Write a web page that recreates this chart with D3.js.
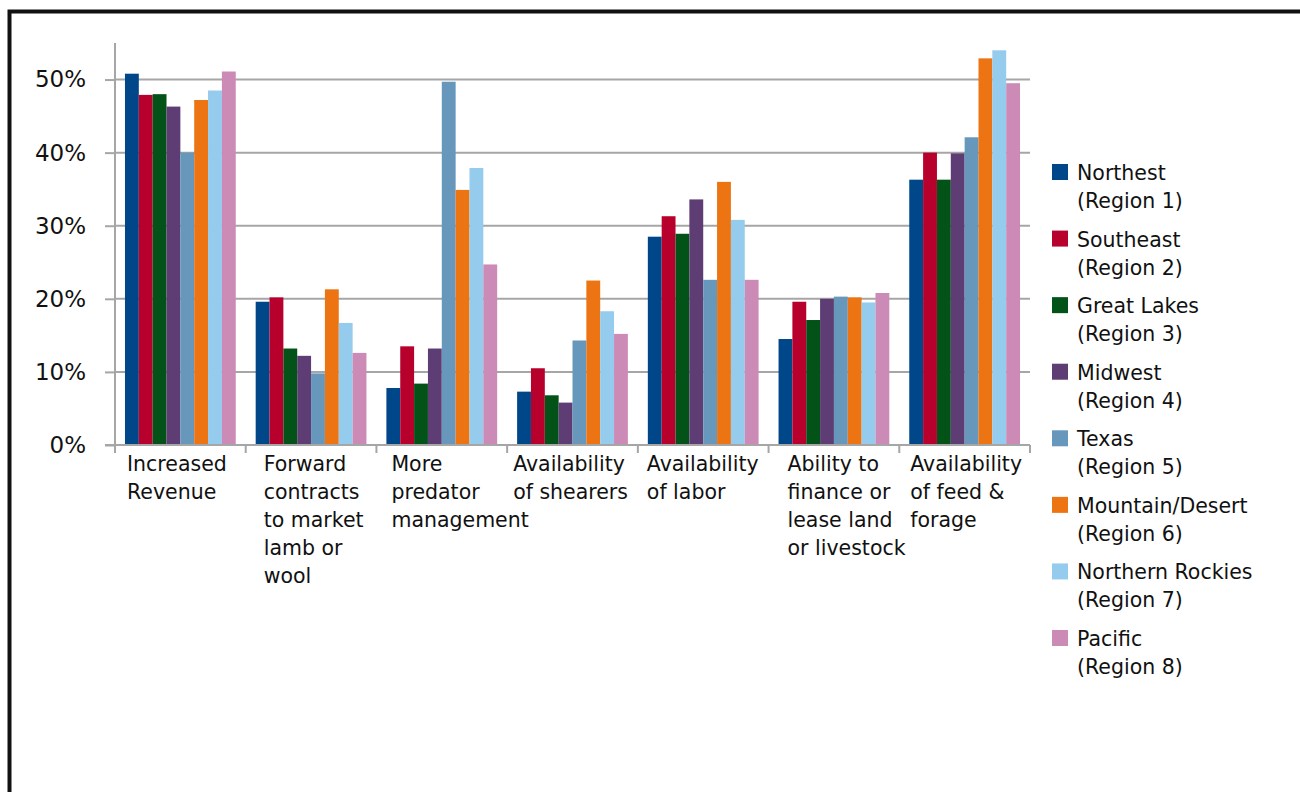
<!DOCTYPE html>
<html>
<head>
<meta charset="utf-8">
<script src="https://cdn.jsdelivr.net/npm/d3@7"></script>
<style>
  html, body { margin: 0; padding: 0; background: #fff; }
  svg { display: block; font-family: "DejaVu Sans", Verdana, sans-serif; }
</style>
</head>
<body>
<svg id="chart" width="1300" height="792"></svg>
<script>
// Factors by region (share of respondents)
const categories = [
  ["Increased", "Revenue"],
  ["Forward", "contracts", "to market", "lamb or", "wool"],
  ["More", "predator", "management"],
  ["Availability", "of shearers"],
  ["Availability", "of labor"],
  ["Ability to", "finance or", "lease land", "or livestock"],
  ["Availability", "of feed &", "forage"]
];

const seriesNames = [
  ["Northest", "(Region 1)"],
  ["Southeast", "(Region 2)"],
  ["Great Lakes", "(Region 3)"],
  ["Midwest", "(Region 4)"],
  ["Texas", "(Region 5)"],
  ["Mountain/Desert", "(Region 6)"],
  ["Northern Rockies", "(Region 7)"],
  ["Pacific", "(Region 8)"]
];

// values per series, one entry per category (percent)
const northeast   = [50.8, 19.6,  7.8,  7.3, 28.5, 14.5, 36.3];
const southeast   = [47.9, 20.2, 13.5, 10.5, 31.3, 19.6, 40.0];
const greatLakes  = [48.0, 13.2,  8.4,  6.8, 28.9, 17.1, 36.3];
const midwest     = [46.3, 12.2, 13.2,  5.8, 33.6, 20.0, 39.9];
const texas       = [40.0,  9.8, 49.7, 14.3, 22.6, 20.3, 42.1];
const mountain    = [47.2, 21.3, 34.9, 22.5, 36.0, 20.2, 52.9];
const nRockies    = [48.5, 16.7, 37.9, 18.3, 30.8, 19.5, 54.0];
const pacific     = [51.1, 12.6, 24.7, 15.2, 22.6, 20.8, 49.5];

const seriesValues = [northeast, southeast, greatLakes, midwest, texas, mountain, nRockies, pacific];

const yTicks = [0, 10, 20, 30, 40, 50];

const colors = ["#00478a", "#b8002c", "#035318", "#5d3d74", "#6797bb", "#ec7413", "#95cbec", "#cc8bb7"];

// layout
const plot = { left: 115, right: 1030, top: 43, bottom: 445 };
const labelOffsets = [12, 18, 15, 6, 9, 19, 11];

const svg = d3.select("#chart");

// frame
svg.append("rect").attr("x", 0).attr("y", 0).attr("width", 1300).attr("height", 792).attr("fill", "#fff");
svg.append("path")
  .attr("d", "M9.5,800 V11.5 H1310")
  .attr("fill", "none").attr("stroke", "#111").attr("stroke-width", 4);

const x0 = d3.scaleBand()
  .domain(d3.range(categories.length))
  .range([plot.left, plot.right])
  .paddingInner(0).paddingOuter(0);

const x1 = d3.scaleBand()
  .domain(d3.range(seriesValues.length))
  .range([0, x0.bandwidth()])
  .paddingOuter(0.72).paddingInner(0);

const y = d3.scaleLinear().domain([0, 55]).range([plot.bottom, plot.top]);

// gridlines
svg.append("g")
  .selectAll("line")
  .data(yTicks.filter(t => t > 0))
  .join("line")
  .attr("x1", plot.left).attr("x2", plot.right)
  .attr("y1", d => y(d)).attr("y2", d => y(d))
  .attr("stroke", "#a6a6a6").attr("stroke-width", 2);

// y axis
const yAxis = d3.axisLeft(y).tickValues(yTicks).tickSize(10).tickPadding(19).tickFormat(d => d + "%");
const gy = svg.append("g").attr("transform", `translate(${plot.left},0)`).call(yAxis);
gy.select(".domain").attr("stroke", "#a6a6a6").attr("stroke-width", 2)
  .attr("d", `M0,${plot.top}V${plot.bottom}`);
gy.selectAll(".tick line").attr("stroke", "#a6a6a6").attr("stroke-width", 2);
gy.selectAll(".tick text").attr("font-size", 23).attr("fill", "#111").attr("font-family", "DejaVu Sans, Verdana, sans-serif");

// bars
const groups = svg.append("g")
  .selectAll("g")
  .data(categories.map((c, i) => i))
  .join("g")
  .attr("transform", i => `translate(${x0(i)},0)`);

groups.selectAll("rect")
  .data(ci => seriesValues.map((s, si) => ({ si, v: s[ci] })))
  .join("rect")
  .attr("x", d => x1(d.si))
  .attr("width", x1.bandwidth())
  .attr("y", d => y(d.v))
  .attr("height", d => y(0) - y(d.v))
  .attr("fill", d => colors[d.si]);

// x axis line and category dividers
svg.append("line")
  .attr("x1", plot.left - 10).attr("x2", plot.right)
  .attr("y1", plot.bottom).attr("y2", plot.bottom)
  .attr("stroke", "#a6a6a6").attr("stroke-width", 2);
svg.append("g")
  .selectAll("line")
  .data(d3.range(categories.length + 1))
  .join("line")
  .attr("x1", i => plot.left + i * x0.bandwidth())
  .attr("x2", i => plot.left + i * x0.bandwidth())
  .attr("y1", plot.bottom).attr("y2", plot.bottom + 8)
  .attr("stroke", "#a6a6a6").attr("stroke-width", 2);

// category labels
const catLabels = svg.append("g")
  .selectAll("text")
  .data(categories)
  .join("text")
  .attr("x", (d, i) => x0(i) + labelOffsets[i])
  .attr("y", 471)
  .attr("font-size", 20.5)
  .attr("fill", "#111");
catLabels.selectAll("tspan")
  .data(d => d)
  .join("tspan")
  .attr("x", function () { return d3.select(this.parentNode).attr("x"); })
  .attr("dy", (d, i) => i === 0 ? 0 : 28)
  .text(d => d);

// legend
const legend = svg.append("g");
const legendY = d3.scaleLinear().domain([0, seriesNames.length - 1]).range([172, 638]);
const items = legend.selectAll("g")
  .data(seriesNames)
  .join("g")
  .attr("transform", (d, i) => `translate(1052,${legendY(i)})`);
items.append("rect")
  .attr("x", 0).attr("y", -8).attr("width", 16).attr("height", 16)
  .attr("fill", (d, i) => colors[i]);
items.append("text")
  .attr("x", 25).attr("y", 8)
  .attr("font-size", 20.5)
  .attr("fill", "#111")
  .selectAll("tspan")
  .data(d => d)
  .join("tspan")
  .attr("x", 25)
  .attr("dy", (d, i) => i === 0 ? 0 : 28)
  .text(d => d);
</script>
</body>
</html>
